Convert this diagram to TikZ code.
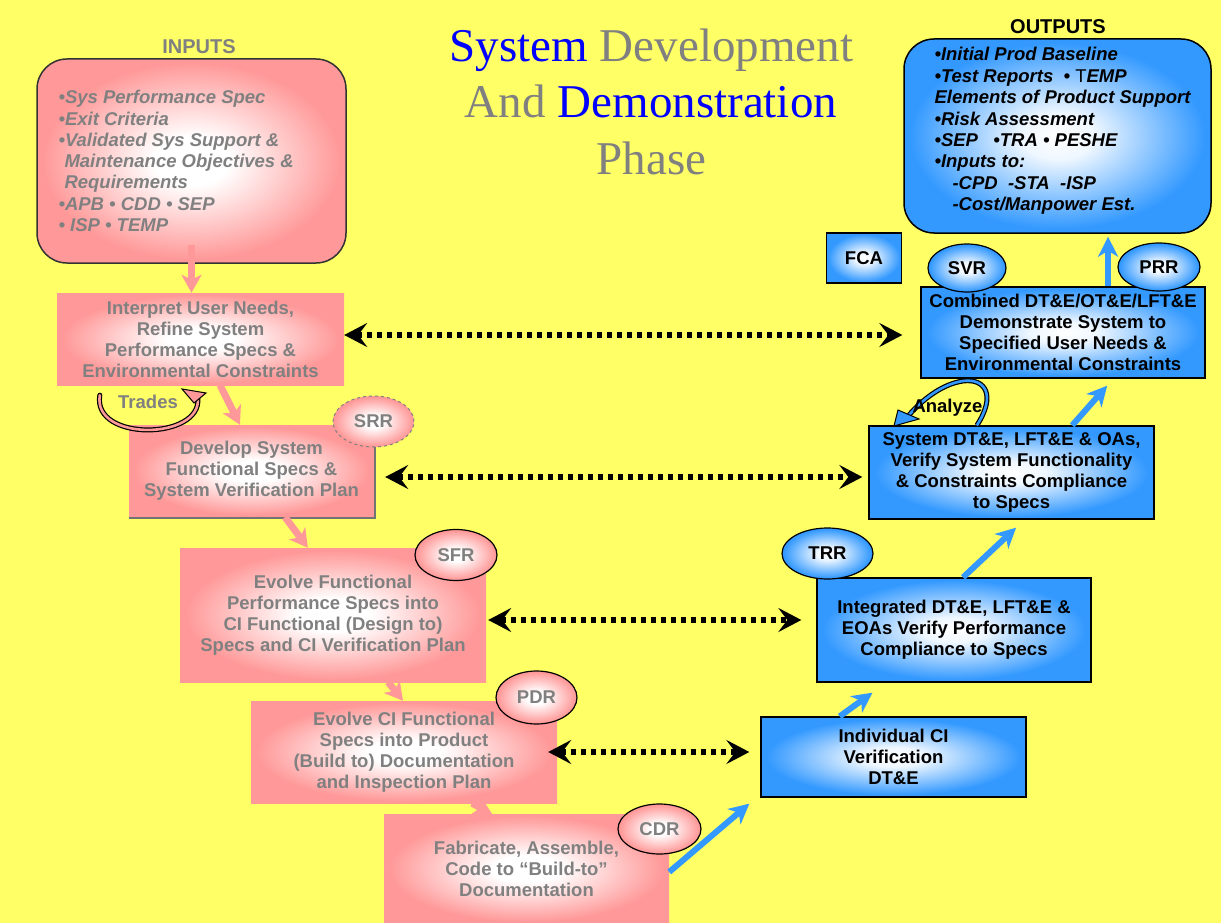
\documentclass[tikz,border=0pt]{standalone}
\usepackage{fontspec}
\setmainfont{Liberation Serif}
\setsansfont{Liberation Sans}
\usetikzlibrary{arrows.meta,calc,shapes.geometric}

\definecolor{bgyellow}{RGB}{255,255,102}
\definecolor{pinkE}{RGB}{255,153,153}
\definecolor{blueE}{RGB}{51,153,255}
\definecolor{txtgray}{RGB}{128,128,128}
\definecolor{titleblue}{RGB}{0,0,255}

% soft glow fills: light centre fading to the box colour
\pgfdeclareradialshading{pinkglow}{\pgfpoint{0bp}{0bp}}{color(0bp)=(white); color(6bp)=(white); color(24bp)=(pinkE); color(50bp)=(pinkE)}
\pgfdeclareradialshading{blueglow}{\pgfpoint{0bp}{0bp}}{color(0bp)=(white); color(6bp)=(white!92!blueE); color(24bp)=(blueE); color(50bp)=(blueE)}

\tikzset{
  body/.style={font=\sffamily\bfseries\fontsize{18.5}{21}\selectfont, align=center},
  pinkbox/.style={body, rectangle, shade, shading=pinkglow, text=txtgray, inner sep=0pt},
  bluebox/.style={body, rectangle, shade, shading=blueglow, draw=black, line width=1.3pt, text=black, inner sep=0pt},
  pinkoval/.style={body, ellipse, shade, shading=pinkglow, draw=black, line width=1.2pt, text=txtgray, inner sep=0pt},
  blueoval/.style={body, ellipse, shade, shading=blueglow, draw=black, line width=1.2pt, text=black, inner sep=0pt},
  pinkarrow/.style={draw=pinkE, line width=7pt, -{Stealth[length=18pt,width=20pt,inset=5pt]}},
  bluearrow/.style={draw=blueE, line width=6pt, -{Stealth[length=20pt,width=20pt,inset=6pt]}},
  linkarrow/.style={draw=black, line width=5.5pt, dash pattern=on 5.5pt off 4.5pt,
    {Stealth[length=23pt,width=24pt,inset=9pt]}-{Stealth[length=23pt,width=24pt,inset=9pt]}},
  heading/.style={font=\sffamily\bfseries\fontsize{20}{24}\selectfont},
  titleline/.style={font=\fontsize{47}{56}\selectfont, anchor=base, inner sep=0pt},
}

\begin{document}
\begin{tikzpicture}[x=1pt, y=-1pt]
  \fill[bgyellow] (0,0) rectangle (1221,923);
  \useasboundingbox (0,0) rectangle (1221,923);

  % title
  \node[titleline] (t1) at (651.5,62) {\color{titleblue}System \color{txtgray}Development};
  \node[titleline] (t2) at (651,118) {\color{txtgray}And \color{titleblue}Demonstration};
  \node[titleline, text=txtgray] (t3) at (651.5,175) {Phase};

  % inputs
  \node[heading, text=txtgray] (inlabel) at (199,47) {INPUTS};
  \node[rectangle, rounded corners=30pt, shade, shading=pinkglow, draw=black!80, line width=1.5pt,
        minimum width=309pt, minimum height=204pt] (inputs) at (191.5,161) {};
  \node[body, align=left, anchor=west, text=txtgray, font=\sffamily\bfseries\itshape\fontsize{18.5}{21.3}\selectfont]
    (inputsText) at (55,161) {•Sys Performance Spec\\
    •Exit Criteria\\
    •Validated Sys Support \&\\
    \hspace*{6pt}Maintenance Objectives \&\\
    \hspace*{6pt}Requirements\\
    •APB • CDD • SEP\\
    • ISP • TEMP};

  % outputs
  \node[heading] (outlabel) at (1058,27) {OUTPUTS};
  \node[rectangle, rounded corners=30pt, shade, shading=blueglow, draw=black, line width=1.5pt,
        minimum width=307pt, minimum height=194pt] (outputs) at (1057.5,136) {};
  \node[body, align=left, anchor=west, font=\sffamily\bfseries\itshape\fontsize{18.5}{21.4}\selectfont]
    (outputsText) at (931,131) {•Initial Prod Baseline\\
    •Test Reports \ • {\mdseries\upshape T}EMP\\
    Elements of Product Support\\
    •Risk Assessment\\
    •SEP \ \ •TRA • PESHE\\
    •Inputs to:\\
    \hspace*{18pt}-CPD \ -STA \ -ISP\\
    \hspace*{18pt}-Cost/Manpower Est.};

  % left leg: definition and design
  \node[pinkbox, minimum width=287pt, minimum height=92pt] (interp) at (200.5,339)
    {Interpret User Needs,\\Refine System\\Performance Specs \&\\Environmental Constraints};
  \node[pinkbox, minimum width=245pt, minimum height=92pt] (develop) at (251.5,471)
    {Develop System\\Functional Specs \&\\System Verification Plan};
  \draw[black!55, line width=1.5pt] ([xshift=0.8pt]develop.north east) -- ([xshift=0.8pt,yshift=-0.8pt]develop.south east) -- ([yshift=-0.8pt]develop.south west);
  \node[pinkbox, minimum width=306pt, minimum height=134pt] (evolvef) at (333,615)
    {Evolve Functional\\Performance Specs into\\CI Functional (Design to)\\Specs and CI Verification Plan};
  \node[pinkbox, minimum width=306pt, minimum height=102pt] (evolveci) at (404,752)
    {Evolve CI Functional\\Specs into Product\\(Build to) Documentation\\and Inspection Plan};
  \node[pinkbox, minimum width=285pt, minimum height=110pt] (fab) at (526.5,869)
    {Fabricate, Assemble,\\Code to “Build-to”\\Documentation};

  % right leg: verification
  \node[bluebox, minimum width=265pt, minimum height=80pt] (indiv) at (893.5,757)
    {Individual CI\\Verification\\DT\&E};
  \node[bluebox, minimum width=274pt, minimum height=104pt] (integ) at (954,630)
    {Integrated DT\&E, LFT\&E \&\\EOAs Verify Performance\\Compliance to Specs};
  \node[bluebox, minimum width=285pt, minimum height=93pt] (sysdt) at (1011.5,472.5)
    {System DT\&E, LFT\&E \& OAs,\\Verify System Functionality\\\& Constraints Compliance\\to Specs};
  \node[bluebox, minimum width=284pt, minimum height=91pt] (combined) at (1063,332.5)
    {Combined DT\&E/OT\&E/LFT\&E\\Demonstrate System to\\Specified User Needs \&\\Environmental Constraints};
  \node[bluebox, minimum width=75pt, minimum height=50pt] (fca) at (864,258) {FCA};

  % flow down the left leg
  \draw[pinkarrow] ([yshift=19pt]inputs.south) -- (inputs.south |- interp.north);
  \draw[pinkarrow] ($(interp.south west)!0.568!(interp.south east)$) -- ($(develop.north west)!0.453!(develop.north east)$);
  \draw[pinkarrow] ($(develop.south west)!0.637!(develop.south east)$) -- ($(evolvef.north west)!0.418!(evolvef.north east)$);
  \draw[pinkarrow] ($(evolvef.south west)!0.68!(evolvef.south east)$) -- ($(evolveci.north west)!0.497!(evolveci.north east)$);
  \draw[pinkarrow] ($(evolveci.south west)!0.722!(evolveci.south east)$) -- ($(fab.north west)!0.379!(fab.north east)$);

  % flow up the right leg
  \draw[bluearrow] ($(fab.north east)!0.527!(fab.south east)$) -- ($(indiv.south west)+(-11,6)$);
  \draw[bluearrow] ($(indiv.north west)!0.298!(indiv.north east)$) -- ($($(integ.south west)!0.204!(integ.south east)$)+(0,10)$);
  \draw[bluearrow] ($(integ.north west)!0.533!(integ.north east)$) -- ($($(sysdt.south west)!0.516!(sysdt.south east)$)+(0,8)$);
  \draw[bluearrow] ($(sysdt.north west)!0.712!(sysdt.north east)$) -- ($($(combined.south west)!0.655!(combined.south east)$)+(0,7)$);
  \coordinate (topout) at ($(combined.north west)!0.658!(combined.north east)$);
  \draw[bluearrow] (topout) -- ([yshift=-3pt]topout |- outputs.south);

  % review milestones
  \node[pinkoval, draw=txtgray, dashed, line width=1pt, minimum width=81pt, minimum height=51pt] (srr) at (373.5,421.5) {SRR};
  \node[pinkoval, minimum width=82pt, minimum height=51pt] (sfr) at (456,555) {SFR};
  \node[pinkoval, minimum width=81pt, minimum height=53pt] (pdr) at (536.5,697.5) {PDR};
  \node[pinkoval, minimum width=83pt, minimum height=50pt] (cdr) at (659.5,829) {CDR};
  \node[blueoval, minimum width=91pt, minimum height=51pt] (trr) at (827.5,553.5) {TRR};
  \node[blueoval, minimum width=78pt, minimum height=48pt] (svr) at (967,268) {SVR};
  \node[blueoval, minimum width=82pt, minimum height=48pt] (prr) at (1159,267) {PRR};

  % design level linked to its verification level
  \draw[linkarrow, shorten >=18pt] ([yshift=4pt]interp.east) -- ([yshift=4pt]interp.east -| combined.west);
  \draw[linkarrow, shorten <=11pt, shorten >=6pt] ([yshift=-6pt]develop.east) -- ([yshift=-6pt]develop.east -| sysdt.west);
  \draw[linkarrow, shorten <=2pt, shorten >=15pt] ([yshift=-5pt]evolvef.east) -- ([yshift=-5pt]evolvef.east -| integ.west);
  \draw[linkarrow, shorten <=-9pt, shorten >=11pt] (evolveci.east) -- (evolveci.east -| indiv.west);

  % trades loop under the first box
  \coordinate (trA) at ($(interp.south west)+(43,10)$);
  \coordinate (trB) at ($(interp.south west)+(141,13)$);
  \draw[black, line width=5pt, line cap=round] (trA) .. controls (92,442) and (202,440) .. (trB);
  \draw[pinkE, line width=2.6pt, line cap=round] (trA) .. controls (92,442) and (202,440) .. (trB);
  \filldraw[fill=pinkE, draw=black, line width=1pt, line join=miter] (182,389) -- (206,393) -- (194,403) -- cycle;
  \node[body, text=txtgray] (trades) at (148,402) {Trades};

  % analysis loop above system test
  \coordinate (anA) at ($(sysdt.north west)!0.379!(sysdt.north east)$);
  \coordinate (anB) at (909,415);
  \draw[black, line width=5pt] (anA) .. controls (996,396) and (986,378) .. (963,381) .. controls (942,384) and (922,400) .. (anB);
  \draw[blueE, line width=2.6pt] (anA) .. controls (996,396) and (986,378) .. (963,381) .. controls (942,384) and (922,400) .. (anB);
  \filldraw[fill=blueE, draw=black, line width=1pt, line join=miter] (894,426) -- (898,410) -- (919,419) -- cycle;
  \node[body] (analyze) at (947.5,408) {Analyze};
\end{tikzpicture}
\end{document}
